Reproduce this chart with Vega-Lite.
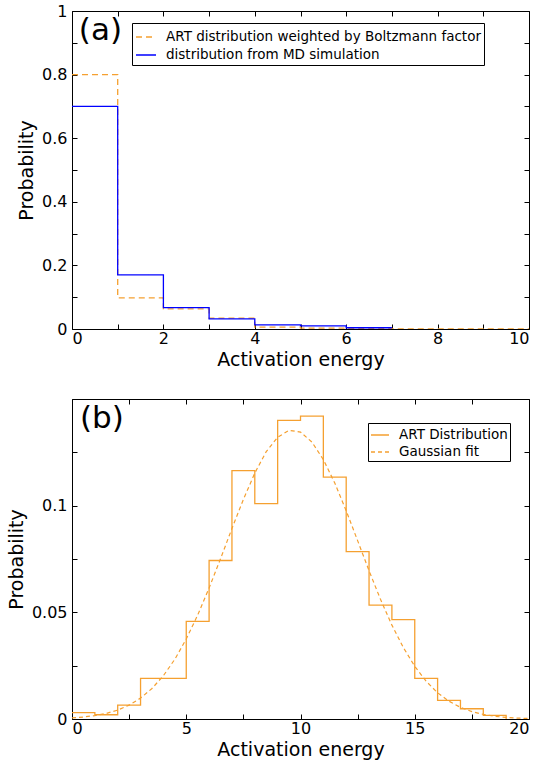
{
  "$schema": "https://vega.github.io/schema/vega-lite/v6.json",
  "padding": {"left": 6, "top": 2, "right": 5, "bottom": 5},
  "background": "white",
  "spacing": 70,
  "bounds": "flush",
  "config": {
    "font": "DejaVu Sans",
    "view": {"stroke": "black", "strokeWidth": 1},
    "axis": {
      "grid": false, "domain": false, "tickColor": "black", "tickSize": -5, "tickWidth": 1,
      "labelFontSize": 16, "labelColor": "black", "labelFont": "DejaVu Sans",
      "titleFontSize": 19, "titleFontWeight": "normal", "titleColor": "black", "titleFont": "DejaVu Sans"
    },
    "axisX": {"labelPadding": 6, "titlePadding": 4},
    "axisY": {"labelPadding": 10, "titlePadding": 5},
    "legend": {
      "orient": "none", "strokeColor": "black", "fillColor": "white", "padding": 3, "cornerRadius": 0,
      "symbolType": "stroke", "symbolSize": 400, "symbolStrokeWidth": 1.3, "labelFontSize": 13.5,
      "labelFont": "DejaVu Sans", "labelColor": "black", "labelOffset": 9, "rowPadding": 0, "title": null, "labelLimit": 600
    }
  },
  "resolve": {"scale": {"color": "independent", "strokeDash": "independent"}, "legend": {"color": "independent", "strokeDash": "independent"}},
  "vconcat": [
    {
      "width": 457, "height": 318,
      "data": {"values": [
        {"series": "ART distribution weighted by Boltzmann factor", "e": 0, "p": 0.8},
        {"series": "ART distribution weighted by Boltzmann factor", "e": 1, "p": 0.098},
        {"series": "ART distribution weighted by Boltzmann factor", "e": 2, "p": 0.063},
        {"series": "ART distribution weighted by Boltzmann factor", "e": 3, "p": 0.034},
        {"series": "ART distribution weighted by Boltzmann factor", "e": 4, "p": 0.006},
        {"series": "ART distribution weighted by Boltzmann factor", "e": 5, "p": 0.003},
        {"series": "ART distribution weighted by Boltzmann factor", "e": 6, "p": 0.002},
        {"series": "ART distribution weighted by Boltzmann factor", "e": 7, "p": 0.0005},
        {"series": "ART distribution weighted by Boltzmann factor", "e": 8, "p": 0.0005},
        {"series": "ART distribution weighted by Boltzmann factor", "e": 9, "p": 0.0005},
        {"series": "ART distribution weighted by Boltzmann factor", "e": 10, "p": 0.0005},
        {"series": "distribution from MD simulation", "e": 0, "p": 0.7},
        {"series": "distribution from MD simulation", "e": 1, "p": 0.17},
        {"series": "distribution from MD simulation", "e": 2, "p": 0.067},
        {"series": "distribution from MD simulation", "e": 3, "p": 0.032},
        {"series": "distribution from MD simulation", "e": 4, "p": 0.013},
        {"series": "distribution from MD simulation", "e": 5, "p": 0.01},
        {"series": "distribution from MD simulation", "e": 6, "p": 0.004},
        {"series": "distribution from MD simulation", "e": 7, "p": 0.004}
      ]},
      "resolve": {"axis": {"x": "independent", "y": "independent"}},
      "layer": [
        {
          "mark": {"type": "line", "interpolate": "step-after", "strokeWidth": 1.3, "clip": true},
          "encoding": {
            "x": {"field": "e", "type": "quantitative", "scale": {"domain": [0, 10], "nice": false},
              "axis": {"orient": "bottom", "title": "Activation energy", "values": [0,1,2,3,4,5,6,7,8,9,10],
                "labelExpr": "datum.value % 2 == 0 ? format(datum.value, '~g') : ''"}},
            "y": {"field": "p", "type": "quantitative", "scale": {"domain": [0, 1], "nice": false},
              "axis": {"orient": "left", "title": "Probability", "values": [0,0.1,0.2,0.3,0.4,0.5,0.6,0.7,0.8,0.9,1],
                "labelExpr": "round(datum.value * 10) % 2 == 0 ? format(datum.value, '~g') : ''"}},
            "color": {"field": "series", "type": "nominal",
              "scale": {"domain": ["ART distribution weighted by Boltzmann factor", "distribution from MD simulation"], "range": ["#F5A030", "#0000FF"]},
              "legend": {"legendX": 60, "legendY": 12,
                "encode": {"labels": {"update": {"text": {"signal": "datum.label + '\u2003\u2003'"}}}}}},
            "strokeDash": {"field": "series", "type": "nominal",
              "scale": {"domain": ["ART distribution weighted by Boltzmann factor", "distribution from MD simulation"], "range": [[6, 4], [1, 0]]},
              "legend": {"legendX": 60, "legendY": 12,
                "encode": {"labels": {"update": {"text": {"signal": "datum.label + '\u2003\u2003'"}}}}}}
          }
        },
        {
          "mark": {"type": "line", "strokeOpacity": 0},
          "encoding": {
            "x": {"field": "e", "type": "quantitative",
              "axis": {"orient": "top", "title": null, "labels": false, "values": [0,1,2,3,4,5,6,7,8,9,10]}},
            "y": {"field": "p", "type": "quantitative",
              "axis": {"orient": "right", "title": null, "labels": false, "values": [0,0.1,0.2,0.3,0.4,0.5,0.6,0.7,0.8,0.9,1]}},
            "detail": {"field": "series"}
          }
        },
        {
          "data": {"values": [{"e": 0.15, "p": 0.937, "t": "(a)"}]},
          "mark": {"type": "text", "align": "left", "baseline": "middle", "fontSize": 31, "font": "DejaVu Sans", "color": "black"},
          "encoding": {
            "x": {"field": "e", "type": "quantitative", "axis": null},
            "y": {"field": "p", "type": "quantitative", "axis": null},
            "text": {"field": "t"}
          }
        }
      ]
    },
    {
      "width": 457, "height": 320,
      "data": {"values": [
        {"series": "ART Distribution", "e": 0, "p": 0.003},
        {"series": "ART Distribution", "e": 1, "p": 0.002},
        {"series": "ART Distribution", "e": 2, "p": 0.0065},
        {"series": "ART Distribution", "e": 3, "p": 0.019},
        {"series": "ART Distribution", "e": 4, "p": 0.019},
        {"series": "ART Distribution", "e": 5, "p": 0.0458},
        {"series": "ART Distribution", "e": 6, "p": 0.0743},
        {"series": "ART Distribution", "e": 7, "p": 0.1164},
        {"series": "ART Distribution", "e": 8, "p": 0.101},
        {"series": "ART Distribution", "e": 9, "p": 0.140},
        {"series": "ART Distribution", "e": 10, "p": 0.142},
        {"series": "ART Distribution", "e": 11, "p": 0.1134},
        {"series": "ART Distribution", "e": 12, "p": 0.0785},
        {"series": "ART Distribution", "e": 13, "p": 0.0534},
        {"series": "ART Distribution", "e": 14, "p": 0.0466},
        {"series": "ART Distribution", "e": 15, "p": 0.019},
        {"series": "ART Distribution", "e": 16, "p": 0.0087},
        {"series": "ART Distribution", "e": 17, "p": 0.0048},
        {"series": "ART Distribution", "e": 18, "p": 0.0017},
        {"series": "ART Distribution", "e": 19, "p": 0},
        {"series": "Gaussian fit", "e": 0, "p": 0.00053},
        {"series": "Gaussian fit", "e": 0.5, "p": 0.00093},
        {"series": "Gaussian fit", "e": 1, "p": 0.00159},
        {"series": "Gaussian fit", "e": 1.5, "p": 0.00261},
        {"series": "Gaussian fit", "e": 2, "p": 0.00418},
        {"series": "Gaussian fit", "e": 2.5, "p": 0.00649},
        {"series": "Gaussian fit", "e": 3, "p": 0.00978},
        {"series": "Gaussian fit", "e": 3.5, "p": 0.0143},
        {"series": "Gaussian fit", "e": 4, "p": 0.0203},
        {"series": "Gaussian fit", "e": 4.5, "p": 0.028},
        {"series": "Gaussian fit", "e": 5, "p": 0.0375},
        {"series": "Gaussian fit", "e": 5.5, "p": 0.0487},
        {"series": "Gaussian fit", "e": 6, "p": 0.0614},
        {"series": "Gaussian fit", "e": 6.5, "p": 0.0751},
        {"series": "Gaussian fit", "e": 7, "p": 0.0893},
        {"series": "Gaussian fit", "e": 7.5, "p": 0.1029},
        {"series": "Gaussian fit", "e": 8, "p": 0.1153},
        {"series": "Gaussian fit", "e": 8.5, "p": 0.1253},
        {"series": "Gaussian fit", "e": 9, "p": 0.1321},
        {"series": "Gaussian fit", "e": 9.5, "p": 0.1353},
        {"series": "Gaussian fit", "e": 10, "p": 0.1345},
        {"series": "Gaussian fit", "e": 10.5, "p": 0.1298},
        {"series": "Gaussian fit", "e": 11, "p": 0.1216},
        {"series": "Gaussian fit", "e": 11.5, "p": 0.1106},
        {"series": "Gaussian fit", "e": 12, "p": 0.0976},
        {"series": "Gaussian fit", "e": 12.5, "p": 0.0836},
        {"series": "Gaussian fit", "e": 13, "p": 0.0695},
        {"series": "Gaussian fit", "e": 13.5, "p": 0.0561},
        {"series": "Gaussian fit", "e": 14, "p": 0.044},
        {"series": "Gaussian fit", "e": 14.5, "p": 0.0335},
        {"series": "Gaussian fit", "e": 15, "p": 0.0247},
        {"series": "Gaussian fit", "e": 15.5, "p": 0.0177},
        {"series": "Gaussian fit", "e": 16, "p": 0.0123},
        {"series": "Gaussian fit", "e": 16.5, "p": 0.00833},
        {"series": "Gaussian fit", "e": 17, "p": 0.00546},
        {"series": "Gaussian fit", "e": 17.5, "p": 0.00347},
        {"series": "Gaussian fit", "e": 18, "p": 0.00215},
        {"series": "Gaussian fit", "e": 18.5, "p": 0.00129},
        {"series": "Gaussian fit", "e": 19, "p": 0.00075},
        {"series": "Gaussian fit", "e": 19.5, "p": 0.00042},
        {"series": "Gaussian fit", "e": 20, "p": 0.00023}
      ]},
      "resolve": {"axis": {"x": "independent", "y": "independent"}},
      "layer": [
        {
          "transform": [{"filter": "datum.series == 'ART Distribution'"}],
          "mark": {"type": "line", "interpolate": "step-after", "strokeWidth": 1.3, "clip": true},
          "encoding": {
            "x": {"field": "e", "type": "quantitative", "scale": {"domain": [0, 20], "nice": false},
              "axis": {"orient": "bottom", "title": "Activation energy", "values": [0,2.5,5,7.5,10,12.5,15,17.5,20],
                "labelExpr": "datum.value % 5 == 0 ? format(datum.value, '~g') : ''"}},
            "y": {"field": "p", "type": "quantitative", "scale": {"domain": [0, 0.15], "nice": false},
              "axis": {"orient": "left", "title": "Probability", "values": [0,0.025,0.05,0.075,0.1,0.125,0.15],
                "labelExpr": "round(datum.value * 40) % 2 == 0 && datum.value < 0.14 ? format(datum.value, '~g') : ''"}},
            "color": {"field": "series", "type": "nominal",
              "scale": {"domain": ["ART Distribution", "Gaussian fit"], "range": ["#F5A030", "#F5A030"]},
              "legend": {"legendX": 296, "legendY": 24, "padding": 2, "symbolSize": 324}},
            "strokeDash": {"field": "series", "type": "nominal",
              "scale": {"domain": ["ART Distribution", "Gaussian fit"], "range": [[1, 0], [4, 3]]},
              "legend": {"legendX": 296, "legendY": 24, "padding": 2, "symbolSize": 324}}
          }
        },
        {
          "transform": [{"filter": "datum.series == 'Gaussian fit'"}],
          "mark": {"type": "line", "strokeWidth": 1.2, "clip": true},
          "encoding": {
            "x": {"field": "e", "type": "quantitative", "axis": null},
            "y": {"field": "p", "type": "quantitative", "axis": null},
            "color": {"field": "series", "type": "nominal"},
            "strokeDash": {"field": "series", "type": "nominal"}
          }
        },
        {
          "mark": {"type": "line", "strokeOpacity": 0},
          "encoding": {
            "x": {"field": "e", "type": "quantitative",
              "axis": {"orient": "top", "title": null, "labels": false, "values": [0,2.5,5,7.5,10,12.5,15,17.5,20]}},
            "y": {"field": "p", "type": "quantitative",
              "axis": {"orient": "right", "title": null, "labels": false, "values": [0,0.025,0.05,0.075,0.1,0.125,0.15]}},
            "detail": {"field": "series"}
          }
        },
        {
          "data": {"values": [{"e": 0.35, "p": 0.1407, "t": "(b)"}]},
          "mark": {"type": "text", "align": "left", "baseline": "middle", "fontSize": 31, "font": "DejaVu Sans", "color": "black"},
          "encoding": {
            "x": {"field": "e", "type": "quantitative", "axis": null},
            "y": {"field": "p", "type": "quantitative", "axis": null},
            "text": {"field": "t"}
          }
        }
      ]
    }
  ]
}
